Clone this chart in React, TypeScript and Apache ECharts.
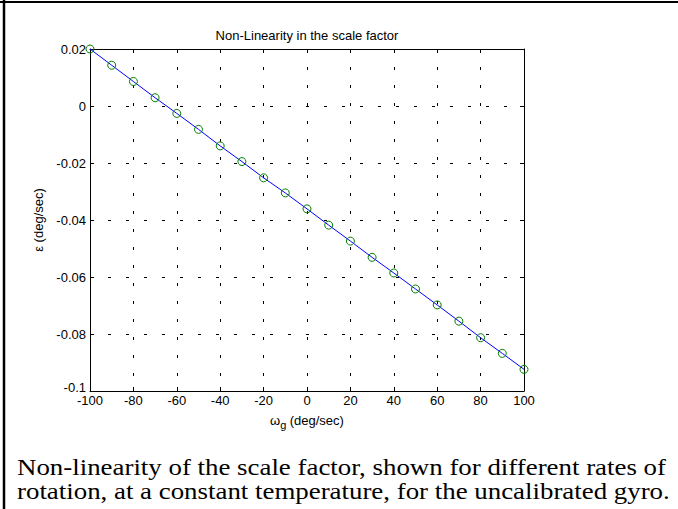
import React, { useEffect, useRef } from "react";
import * as echarts from "echarts";

const rates = [-100, -90, -80, -70, -60, -50, -40, -30, -20, -10, 0, 10, 20, 30, 40, 50, 60, 70, 80, 90, 100];
const errors = [0.02, 0.0143, 0.0086, 0.0029, -0.0026, -0.0082, -0.014, -0.0195, -0.0252, -0.0305, -0.0361, -0.0418, -0.0474, -0.0531, -0.0586, -0.0642, -0.0698, -0.0755, -0.0813, -0.0868, -0.0924];
const titleText = "Non-Linearity in the scale factor";
const captionLines = [
  "Non-linearity of the scale factor, shown for different rates of",
  "rotation, at a constant temperature, for the uncalibrated gyro.",
];

const FONT = "'Liberation Sans', Arial, sans-serif";
const SERIF = "'Liberation Serif', 'Times New Roman', serif";

export default function App() {
  const ref = useRef<HTMLDivElement>(null);
  useEffect(() => {
    document.body.style.margin = "0";
    const chart = echarts.init(ref.current!, undefined, { renderer: "svg" });
    const gridLine = { show: true, lineStyle: { color: "#000", width: 1, type: [3, 15] as any } };
    const tick = { show: true, inside: true, length: 4, lineStyle: { color: "#000" } };
    const axisLine = { show: true, onZero: false, lineStyle: { color: "#000", width: 1 } };
    const xBase = { type: "value" as const, min: -100, max: 100, interval: 20 };
    const yBase = { type: "value" as const, min: -0.1, max: 0.02, interval: 0.02 };
    chart.setOption({
      animation: false,
      backgroundColor: "#fff",
      grid: { left: 90, top: 49, right: 154, bottom: 118, containLabel: false },
      xAxis: [
        {
          ...xBase,
          position: "bottom",
          axisLine,
          axisTick: tick,
          splitLine: gridLine,
          axisLabel: { color: "#000", fontFamily: FONT, fontSize: 13, margin: 3 },
          name: "{w|ω}{s|g} {w|(deg/sec)}",
          nameLocation: "middle",
          nameGap: 20,
          nameTextStyle: {
            rich: {
              w: { fontFamily: FONT, fontSize: 13, color: "#000" },
              s: { fontFamily: FONT, fontSize: 11, color: "#000", verticalAlign: "bottom", padding: [8, 0, 0, 0] },
            },
          },
        },
        {
          ...xBase,
          position: "top",
          axisLine,
          axisTick: tick,
          splitLine: { show: false },
          axisLabel: { show: false },
        },
      ],
      yAxis: [
        {
          ...yBase,
          position: "left",
          axisLine,
          axisTick: tick,
          splitLine: gridLine,
          axisLabel: {
            color: "#000",
            fontFamily: FONT,
            fontSize: 13,
            margin: 4,
            formatter: (v: number) => {
              const s = String(Math.round(v * 1000) / 1000);
              return v <= -0.099 ? "{low|" + s + "}" : s;
            },
            rich: { low: { fontFamily: FONT, fontSize: 13, color: "#000", padding: [0, 0, 7, 0] } },
          },
          name: "ε (deg/sec)",
          nameLocation: "middle",
          nameGap: 42,
          nameTextStyle: { fontFamily: FONT, fontSize: 13, color: "#000" },
        },
        {
          ...yBase,
          position: "right",
          axisLine,
          axisTick: tick,
          splitLine: { show: false },
          axisLabel: { show: false },
        },
      ],
      series: [
        {
          type: "line",
          xAxisIndex: 0,
          yAxisIndex: 0,
          data: rates.map((r, i) => [r, errors[i]]),
          lineStyle: { color: "#0000ff", width: 1 },
          symbol: "circle",
          symbolSize: 8,
          itemStyle: { color: "rgba(0,0,0,0)", borderColor: "#008000", borderWidth: 1 },
          emphasis: { disabled: true },
        },
      ],
      graphic: [
        { type: "line", shape: { x1: 0, y1: 2, x2: 678, y2: 2 }, style: { stroke: "#000", lineWidth: 2 } },
        { type: "line", shape: { x1: 4, y1: 0, x2: 4, y2: 509 }, style: { stroke: "#000", lineWidth: 2.5 } },
        {
          type: "text",
          x: 307,
          y: 35,
          style: { text: titleText, fontFamily: FONT, fontSize: 13, fill: "#000", textAlign: "center", textVerticalAlign: "middle" },
        },
        ...captionLines.map((t, i) => ({
          type: "text",
          x: 17,
          y: 467 + i * 24,
          scaleX: 1.12,
          style: { text: t, fontFamily: SERIF, fontSize: 24, fill: "#000", textAlign: "left", textVerticalAlign: "middle" },
        })),
      ],
    });
    return () => chart.dispose();
  }, []);
  return <div ref={ref} style={{ position: "absolute", left: 0, top: 0, width: 678, height: 509 }} />;
}
